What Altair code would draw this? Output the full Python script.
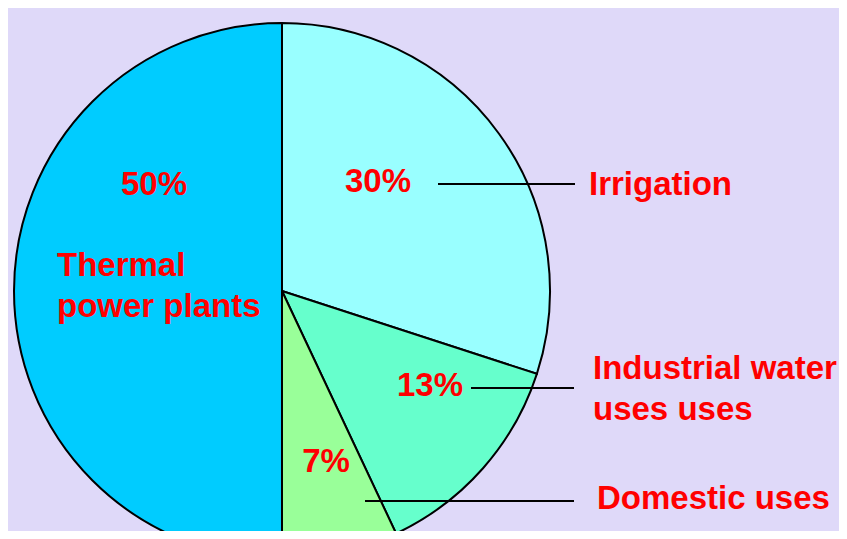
import altair as alt
import pandas as pd

# ---- data -------------------------------------------------------------
categories = ["Irrigation", "Industrial water uses", "Domestic uses", "Thermal power plants"]
shares = [30, 13, 7, 50]
pct_labels = ["30%", "13%", "7%", "50%"]
slice_colors = ["#99FFFF", "#66FFCC", "#99FF99", "#00CCFF"]

# ---- layout (annotation positions, px offsets from the pie centre, y up) ----
pct_pos_x = [96, 148, 44, -128]
pct_pos_y = [99, -105, -181, 96]

name_lines = ["Irrigation", "Industrial water", "uses uses", "Domestic uses", "Thermal", "power plants"]
name_pos_x = [307, 311, 311, 315, -225, -225]
name_pos_y = [96, -88, -129, -218, 15, -26]

leader_x1 = [156, 189, 83]
leader_x2 = [293, 292, 292]
leader_y = [107, -97, -210]

W, H = 831, 523          # chart size
CX, CY = 274, 283        # pie centre inside the chart
R = 268                  # pie radius

pie_df = pd.DataFrame({"category": categories, "share": shares, "order": list(range(len(categories)))})
pct_df = pd.DataFrame({"label": pct_labels, "x": pct_pos_x, "y": pct_pos_y})
name_df = pd.DataFrame({"label": name_lines, "x": name_pos_x, "y": name_pos_y})
lead_df = pd.DataFrame({"x": leader_x1, "x2": leader_x2, "y": leader_y})

xs = alt.Scale(domain=[-CX, W - CX], nice=False, zero=False)
ys = alt.Scale(domain=[CY - H, CY], nice=False, zero=False)

FONT = "Liberation Sans"

pie = alt.Chart(pie_df).mark_arc(radius=R, stroke="black", strokeWidth=2).encode(
    theta=alt.Theta("share:Q", stack=True),
    order=alt.Order("order:Q"),
    color=alt.Color("category:N", scale=alt.Scale(domain=categories, range=slice_colors), legend=None),
    x=alt.X(datum=0, type="quantitative", scale=xs, axis=None),
    y=alt.Y(datum=0, type="quantitative", scale=ys, axis=None),
)

leaders = alt.Chart(lead_df).mark_rule(color="black", strokeWidth=2).encode(
    x=alt.X("x:Q", scale=xs, axis=None),
    x2="x2:Q",
    y=alt.Y("y:Q", scale=ys, axis=None),
)

pct_text = alt.Chart(pct_df).mark_text(
    align="center", baseline="alphabetic", font=FONT, fontWeight="bold", fontSize=33, color="#FF0000"
).encode(
    x=alt.X("x:Q", scale=xs, axis=None),
    y=alt.Y("y:Q", scale=ys, axis=None),
    text="label:N",
)

name_text = alt.Chart(name_df).mark_text(
    align="left", baseline="alphabetic", font=FONT, fontWeight="bold", fontSize=33, color="#FF0000"
).encode(
    x=alt.X("x:Q", scale=xs, axis=None),
    y=alt.Y("y:Q", scale=ys, axis=None),
    text="label:N",
)

chart = alt.layer(pie, leaders, pct_text, name_text).properties(
    width=W,
    height=H,
    padding=0,
    autosize=alt.AutoSizeParams(type="none"),
    background="#DFD9F9",
).configure_view(stroke=None)

chart.save("out.html", embed_options={"renderer": "svg", "actions": False})
